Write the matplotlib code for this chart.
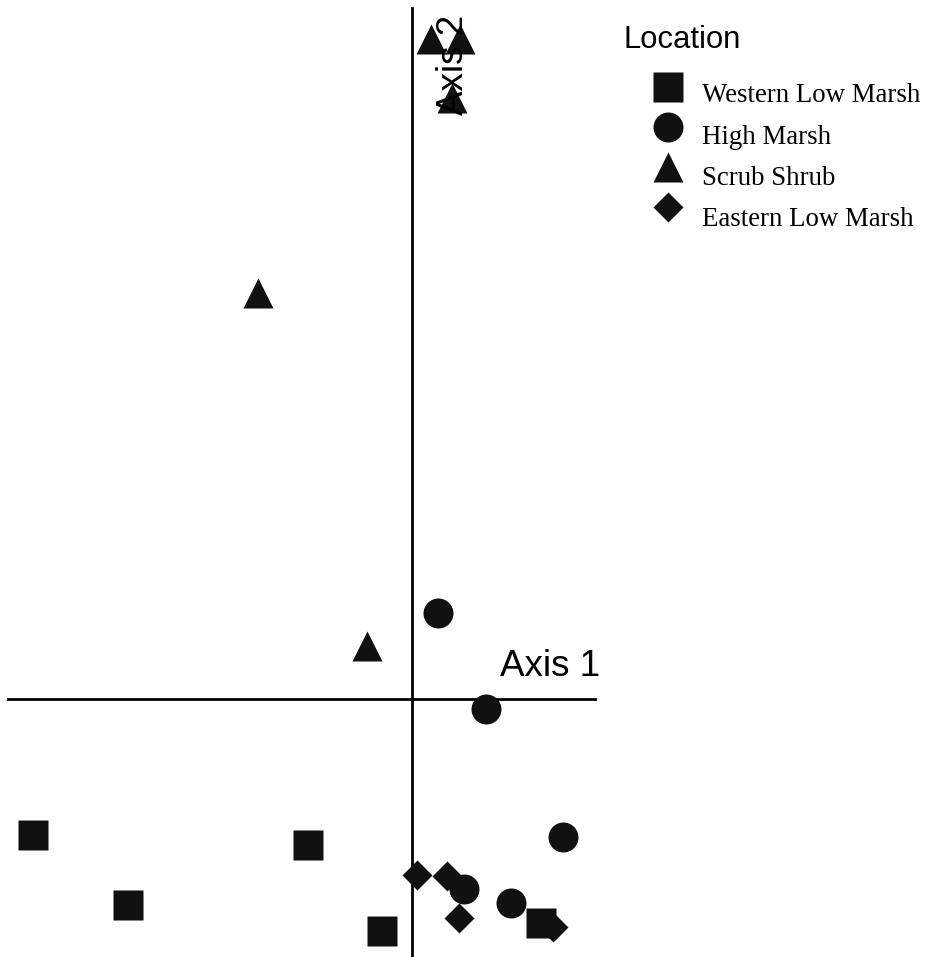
import numpy as np
import matplotlib.pyplot as plt

# NMDS site scores by location
west_x = [-0.948, -0.710, -0.260, -0.075, 0.323]
west_y = [-0.340, -0.515, -0.365, -0.580, -0.560]
high_x = [0.065, 0.185, 0.378, 0.130, 0.248]
high_y = [0.215, -0.025, -0.345, -0.475, -0.510]
scrub_x = [-0.384, -0.113, 0.048, 0.120, 0.100]
scrub_y = [1.016, 0.133, 1.650, 1.650, 1.502]
east_x = [0.013, 0.088, 0.118, 0.353]
east_y = [-0.440, -0.443, -0.548, -0.570]

labels = ['Western Low Marsh', 'High Marsh', 'Scrub Shrub', 'Eastern Low Marsh']
markers = ['s', 'o', '^', 'D']
sizes = [21.6, 21.6, 21.6, 15.0]
col = '#111111'

W, H = 930, 957
fig = plt.figure(figsize=(W/100, H/100), dpi=100)
ax = fig.add_axes([0, 0, 1, 1])
ax.axis('off')
# 400 px per unit, origin at (412, 699) px
ax.set_xlim(-412/400, (W-412)/400)
ax.set_ylim((699-H)/400, 699/400)

def px(x, y):
    return x/W, 1 - y/H

# axis lines through the origin
ax.plot([0, 0], [(699-H)/400, (699-8)/400], color='black', lw=2, zorder=1)
ax.plot([-404/400, 183/400], [0, 0], color='black', lw=2, zorder=1)

groups = [(west_x, west_y), (high_x, high_y), (scrub_x, scrub_y), (east_x, east_y)]
for (gx, gy), m, s in zip(groups, markers, sizes):
    ax.plot(gx, gy, ls='none', marker=m, ms=s, color=col, mec='none', zorder=2)

ax.text(*px(500, 676), 'Axis 1', transform=fig.transFigure, ha='left', va='baseline',
        fontsize=26.5, family='Liberation Sans', zorder=3)
ax.text(*px(463, 115), 'Axis 2', transform=fig.transFigure, ha='left', va='baseline',
        rotation=90, rotation_mode='anchor', fontsize=26.5, family='Liberation Sans', zorder=3)

# legend
fig.text(*px(623, 48), 'Location', ha='left', va='baseline', fontsize=22.3, family='Liberation Sans')
for i, (lab, m, s) in enumerate(zip(labels, markers, sizes)):
    ax.plot(*px(668, 87 + 40*i), marker=m, ms=s, color=col, mec='none', transform=fig.transFigure)
    fig.text(*px(702, 102 + 41.5*i), lab, ha='left', va='baseline', fontsize=19.4,
             family='Liberation Serif')

fig.savefig('out.png', dpi=100)
